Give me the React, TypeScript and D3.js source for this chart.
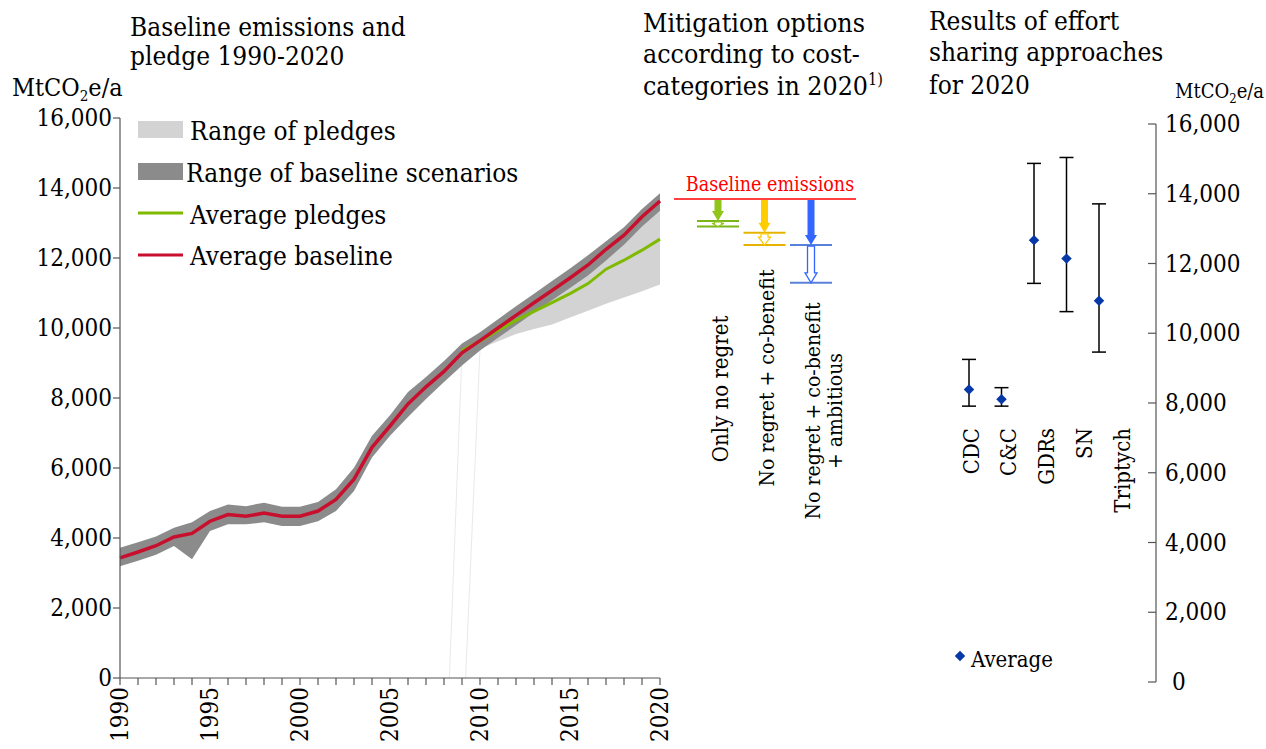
import React from "react";
import * as d3 from "d3";

// ---------- DATA ----------
const years = [1990, 1991, 1992, 1993, 1994, 1995, 1996, 1997, 1998, 1999, 2000, 2001, 2002, 2003, 2004, 2005, 2006, 2007, 2008, 2009, 2010, 2011, 2012, 2013, 2014, 2015, 2016, 2017, 2018, 2019, 2020];
const baselineAvg = [3430, 3600, 3780, 4030, 4130, 4480, 4670, 4620, 4710, 4620, 4620, 4770, 5100, 5680, 6590, 7200, 7830, 8320, 8760, 9290, 9640, 10000, 10360, 10720, 11070, 11430, 11800, 12250, 12650, 13180, 13630];
const baselineMin = [3190, 3350, 3520, 3770, 3390, 4200, 4390, 4390, 4450, 4340, 4340, 4480, 4770, 5340, 6300, 6920, 7460, 7970, 8460, 8930, 9360, 9720, 10080, 10440, 10790, 11140, 11500, 11930, 12380, 12900, 13350];
const baselineMax = [3720, 3880, 4040, 4290, 4450, 4770, 4960, 4910, 5010, 4890, 4890, 5030, 5390, 6010, 6920, 7510, 8170, 8600, 9060, 9560, 9880, 10250, 10620, 10980, 11340, 11700, 12080, 12480, 12880, 13400, 13850];

const pledgeYears = [2010, 2011, 2012, 2013, 2014, 2015, 2016, 2017, 2018, 2019, 2020];
const pledgeMin = [9405, 9620, 9830, 9970, 10100, 10300, 10490, 10690, 10870, 11050, 11240];
const pledgeMax = [9640, 10000, 10360, 10720, 11070, 11430, 11800, 12250, 12650, 13180, 13630];

const avgPledgeYears = [2009, 2010, 2011, 2012, 2013, 2014, 2015, 2016, 2017, 2018, 2019, 2020];
const avgPledge = [9357, 9626, 9930, 10217, 10475, 10724, 10982, 11269, 11680, 11937, 12224, 12540];

// faint artefact strokes of the pledge polygon: [yearBottom, valueBottom, yearTop, valueTop]
const pledgeArtifacts = [
  [2008.3, 0, 2009.0, 9300],
  [2009.2, 0, 2010.0, 9400],
];

const yTicks = [0, 2000, 4000, 6000, 8000, 10000, 12000, 14000, 16000];
const xLabelYears = [1990, 1995, 2000, 2005, 2010, 2015, 2020];

const mitigationBaseline = 13686;
const mitigationCategories = ["Only no regret", "No regret + co-benefit", "No regret + co-benefit + ambitious"];
const mitigationLabelLines = [["Only no regret"], ["No regret + co-benefit"], ["No regret + co-benefit", "+ ambitious"]];
const mitigationUpper = [13060, 12720, 12370];
const mitigationLower = [12900, 12370, 11290];

const approaches = ["CDC", "C&C", "GDRs", "SN", "Triptych"];
const effortAvg = [8390, 8110, 12670, 12140, 10930];
const effortMin = [7910, 7910, 11430, 10620, 9460];
const effortMax = [9250, 8440, 14870, 15040, 13710];

// ---------- STYLE / LAYOUT ----------
const FONT = "'DejaVu Serif Condensed', 'DejaVu Serif', serif";
const W = 1266;
const H = 749;
const LIGHT = "#d3d3d3";
const DARK = "#8b8b8b";
const GREEN = "#7fba00";
const RED = "#c8102e";
const AXIS = "#555";
const mitColors = ["#92c51b", "#ffcc00", "#3366ff"];
const mitLineColors = ["#7cb518", "#e6b400", "#5a80d8"];
const mitLabelCenters = [389, 378, 411];

export default function App() {
  const x = d3.scaleLinear().domain([1990, 2020]).range([120, 660]);
  const y = d3.scaleLinear().domain([0, 16000]).range([678, 118]);
  const yR = d3.scaleLinear().domain([0, 16000]).range([682, 124]);
  const xMit = d3.scalePoint<string>().domain(mitigationCategories).range([718, 811]);
  const xEff = d3.scalePoint<string>().domain(approaches).range([969, 1099]);
  const xEffLabel = d3.scalePoint<string>().domain(approaches).range([971, 1122]);

  const band = d3
    .area<number>()
    .x((_, i) => x(years[i]))
    .y0((_, i) => y(baselineMin[i]))
    .y1((_, i) => y(baselineMax[i]));
  const pledgeArea = d3
    .area<number>()
    .x((_, i) => x(pledgeYears[i]))
    .y0((_, i) => y(pledgeMin[i]))
    .y1((_, i) => y(pledgeMax[i]));
  const redLine = d3
    .line<number>()
    .x((_, i) => x(years[i]))
    .y((d) => y(d));
  const greenLine = d3
    .line<number>()
    .x((_, i) => x(avgPledgeYears[i]))
    .y((d) => y(d));

  const arrowPath = (cx: number, y0: number, y1: number) => {
    const len = y1 - y0;
    const hh = Math.min(10, len * 0.7);
    const sw = 3.5;
    const hw = 6;
    return `M${cx - sw},${y0}L${cx + sw},${y0}L${cx + sw},${y1 - hh}L${cx + hw},${y1 - hh}L${cx},${y1}L${cx - hw},${y1 - hh}L${cx - sw},${y1 - hh}Z`;
  };

  const diamond = d3.symbol().type(d3.symbolDiamond2).size(70)();

  const textBase = { fontFamily: FONT, fontStretch: "condensed" as const, fill: "#000" };

  return (
    <svg width={W} height={H} style={{ position: "absolute", left: 0, top: 0, background: "#fff" }}>
      {/* Titles */}
      <text x={130} y={36} fontSize={26} {...textBase}>Baseline emissions and</text>
      <text x={130} y={65} fontSize={26} {...textBase}>pledge 1990-2020</text>
      <text x={12} y={96} fontSize={25} {...textBase}>
        MtCO<tspan fontSize={15} dy={5}>2</tspan><tspan dy={-5}>e/a</tspan>
      </text>
      <text x={643} y={32} fontSize={26.5} {...textBase}>Mitigation options</text>
      <text x={643} y={63} fontSize={26.5} {...textBase}>according to cost-</text>
      <text x={643} y={95} fontSize={26.5} {...textBase}>
        categories in 2020<tspan fontSize={16} dy={-10}>1)</tspan>
      </text>
      <text x={929} y={30} fontSize={26} {...textBase}>Results of effort</text>
      <text x={929} y={61} fontSize={26} {...textBase}>sharing approaches</text>
      <text x={929} y={94} fontSize={26} {...textBase}>for 2020</text>
      <text x={1175} y={98} fontSize={20} {...textBase}>
        MtCO<tspan fontSize={13} dy={5}>2</tspan><tspan dy={-5}>e/a</tspan>
      </text>

      {/* Left chart areas */}
      {pledgeArtifacts.map((s, i) => (
        <line key={i} x1={x(s[0])} y1={y(s[1])} x2={x(s[2])} y2={y(s[3])} stroke="#e9e9e9" strokeWidth={1} />
      ))}
      <path d={pledgeArea(pledgeMin) || ""} fill={LIGHT} />
      <path d={band(baselineAvg) || ""} fill={DARK} />
      <path d={greenLine(avgPledge) || ""} fill="none" stroke={GREEN} strokeWidth={3} />
      <path d={redLine(baselineAvg) || ""} fill="none" stroke={RED} strokeWidth={3.5} />

      {/* Left y axis */}
      <line x1={x(1990)} x2={x(1990)} y1={y(0)} y2={y(16000)} stroke={AXIS} strokeWidth={1.2} />
      {yTicks.map((t) => (
        <g key={t}>
          <line x1={x(1990) - 7} x2={x(1990)} y1={y(t)} y2={y(t)} stroke={AXIS} strokeWidth={1.2} />
          <text x={x(1990) - 8} y={y(t)} fontSize={24} textAnchor="end" dominantBaseline="central" {...textBase}>
            {d3.format(",")(t)}
          </text>
        </g>
      ))}
      {/* x axis */}
      <line x1={x(1990)} x2={x(2020)} y1={y(0)} y2={y(0)} stroke={AXIS} strokeWidth={1.2} />
      {years.map((yr) => (
        <line key={yr} x1={x(yr)} x2={x(yr)} y1={y(0)} y2={y(0) + 7} stroke={AXIS} strokeWidth={1.2} />
      ))}
      {xLabelYears.map((yr) => (
        <text
          key={yr}
          transform={`translate(${x(yr)},${y(0) + 9}) rotate(-90)`}
          fontSize={24}
          textAnchor="end"
          dominantBaseline="central"
          {...textBase}
        >
          {yr}
        </text>
      ))}

      {/* Legend */}
      <rect x={138} y={121} width={45} height={17} fill={LIGHT} />
      <text x={190} y={140} fontSize={26} {...textBase}>Range of pledges</text>
      <rect x={138} y={163} width={45} height={17} fill={DARK} />
      <text x={186} y={182} fontSize={26} {...textBase}>Range of baseline scenarios</text>
      <line x1={138} x2={183} y1={213} y2={213} stroke={GREEN} strokeWidth={3} />
      <text x={190} y={224} fontSize={26} {...textBase}>Average pledges</text>
      <line x1={138} x2={183} y1={255} y2={255} stroke={RED} strokeWidth={3} />
      <text x={190} y={265} fontSize={26} {...textBase}>Average baseline</text>

      {/* Mitigation section */}
      <text x={770} y={191} fontSize={19.5} textAnchor="middle" {...textBase} fill="#ff0000">
        Baseline emissions
      </text>
      <line x1={674} x2={856} y1={y(mitigationBaseline)} y2={y(mitigationBaseline)} stroke="#ff0000" strokeWidth={1.6} />
      {mitigationCategories.map((c, i) => {
        const cx = xMit(c) as number;
        const yb = y(mitigationBaseline) + 1;
        const yu = y(mitigationUpper[i]);
        const yl = y(mitigationLower[i]);
        return (
          <g key={c}>
            <line x1={cx - 21} x2={cx + 21} y1={yu} y2={yu} stroke={mitLineColors[i]} strokeWidth={2} />
            <line x1={cx - 21} x2={cx + 21} y1={yl} y2={yl} stroke={mitLineColors[i]} strokeWidth={2} />
            <path d={arrowPath(cx, yb, yu)} fill={mitColors[i]} />
            <path d={arrowPath(cx, yu + 1, yl)} fill="#fff" stroke={mitColors[i]} strokeWidth={1.3} />
            {mitigationLabelLines[i].map((ln, j) => (
              <text
                key={j}
                transform={`translate(${cx + 2 + j * 22},${mitLabelCenters[i]}) rotate(-90)`}
                fontSize={i === 0 ? 22 : 21}
                textAnchor="middle"
                dominantBaseline="central"
                {...textBase}
              >
                {ln}
              </text>
            ))}
          </g>
        );
      })}

      {/* Effort sharing section */}
      {approaches.map((a, i) => {
        const cx = xEff(a) as number;
        return (
          <g key={a}>
            <line x1={cx} x2={cx} y1={yR(effortMin[i])} y2={yR(effortMax[i])} stroke="#000" strokeWidth={1.5} />
            <line x1={cx - 7} x2={cx + 7} y1={yR(effortMin[i])} y2={yR(effortMin[i])} stroke="#000" strokeWidth={1.5} />
            <line x1={cx - 7} x2={cx + 7} y1={yR(effortMax[i])} y2={yR(effortMax[i])} stroke="#000" strokeWidth={1.5} />
            <path d={diamond || ""} transform={`translate(${cx},${yR(effortAvg[i])})`} fill="#0638a8" />
            <text
              transform={`translate(${xEffLabel(a)},428) rotate(-90)`}
              fontSize={22}
              textAnchor="end"
              dominantBaseline="central"
              {...textBase}
            >
              {a}
            </text>
          </g>
        );
      })}
      <path d={diamond || ""} transform="translate(960,656)" fill="#0638a8" />
      <text x={971} y={667} fontSize={22} {...textBase}>Average</text>

      {/* Right axis */}
      <line x1={1156} x2={1156} y1={yR(0)} y2={yR(16000)} stroke={AXIS} strokeWidth={1.2} />
      {yTicks.map((t) => (
        <g key={t}>
          <line x1={1148} x2={1156} y1={yR(t)} y2={yR(t)} stroke={AXIS} strokeWidth={1.2} />
          <text x={t === 0 ? 1172 : 1165} y={yR(t)} fontSize={24} dominantBaseline="central" {...textBase}>
            {d3.format(",")(t)}
          </text>
        </g>
      ))}
    </svg>
  );
}
